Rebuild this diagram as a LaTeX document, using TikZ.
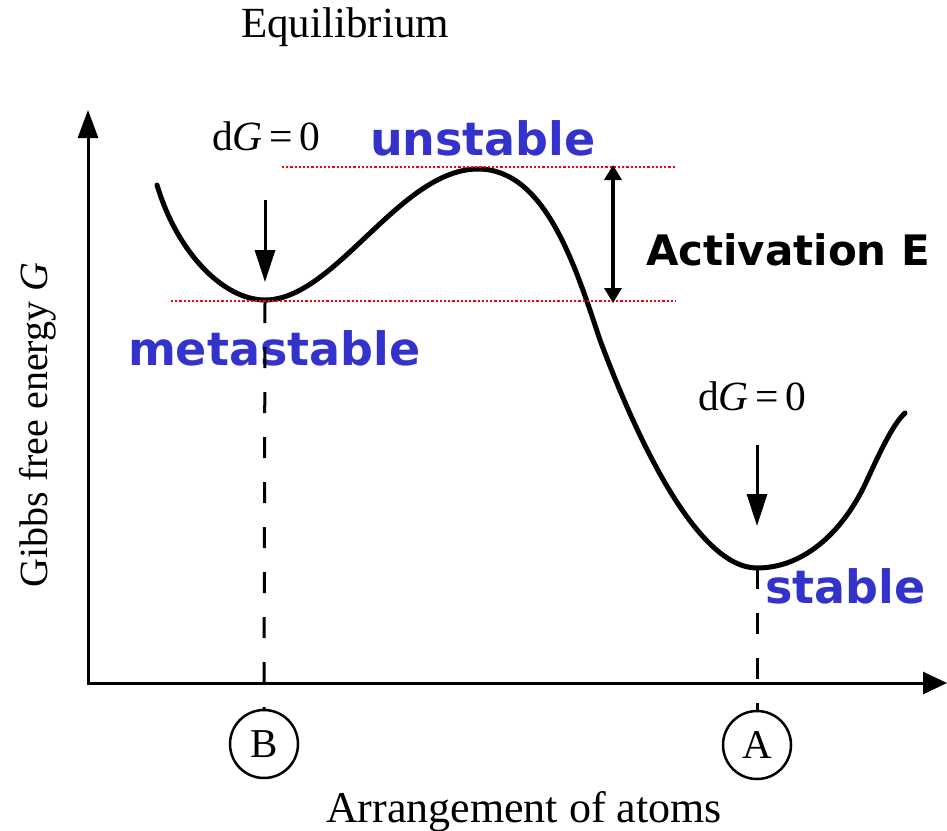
\documentclass[tikz,border=0pt]{standalone}
\usepackage{fontspec}
\setmainfont{Liberation Serif}
\newfontfamily\lblfont{DejaVu Sans}
\usetikzlibrary{arrows.meta}
\definecolor{lblblue}{RGB}{51,51,204}
\newcommand\fsz[1]{\fontsize{#1}{#1}\selectfont}
\begin{document}
\begin{tikzpicture}[x=1pt,y=-1pt,
  txt/.style={inner sep=0pt,outer sep=0pt},
  serif/.style={txt,font=\fsz{40}},
  bluelbl/.style={txt,text=lblblue,font=\lblfont\bfseries\fsz{46}},
  blacklbl/.style={txt,text=black,font=\lblfont\bfseries\fsz{42}},
  axisline/.style={line width=3pt,-{Triangle[length=28pt,width=20pt]}},
  curveline/.style={line width=5pt,line cap=round},
  dashline/.style={line width=3pt,dash pattern=on 21pt off 24pt},
  reddot/.style={red,line width=2.6pt,dash pattern=on 2.2pt off 2pt},
  downarrow/.style={line width=3pt,-{Triangle[length=32pt,width=20pt]}},
  twoarrow/.style={line width=3.5pt,{Triangle[length=15pt,width=17pt]}-{Triangle[length=15pt,width=17pt]}},
  markcircle/.style={draw,circle,line width=2.5pt,minimum size=68pt,inner sep=0pt,font=\fsz{41}}
]
\useasboundingbox (0,0) rectangle (947,830);

% axes
\coordinate (ybot) at (88,684.5);
\coordinate (ytop) at (88,110);
\coordinate (xleft) at (86.5,683);
\coordinate (xright) at (947,683);
\draw[axisline] (ybot) -- (ytop);
\draw[axisline,-{Triangle[length=24pt,width=22pt]}] (xleft) -- (xright);

% titles
\node[serif,anchor=base,font=\fsz{43}] (title) at (345,37) {Equilibrium};
\node[serif,anchor=base,rotate=90] (ylabel) at (47,425) {Gibbs free energy \textit{G}};
\node[serif,anchor=base,font=\fsz{44}] (xlabel) at (524,822) {Arrangement of atoms};

% blue and black labels
\node[bluelbl,anchor=base west] (unst) at (370,155) {unstable};
\node[bluelbl,anchor=base west] (meta) at (128,365) {metastable};
\node[bluelbl,anchor=base west] (stab) at (765,603) {stable};
\node[blacklbl,anchor=base west] (actE) at (646,265) {Activation E};

% dG = 0 labels
\node[serif,anchor=base west,font=\fsz{41.5}] (dgB) at (212,150) {d\textit{G}\,=\,0};
\node[serif,anchor=base west,font=\fsz{41.5}] (dgA) at (698,410) {d\textit{G}\,=\,0};

% circles
\node[markcircle] (cB) at (264,744) {B};
\node[markcircle] (cA) at (757,745) {A};

% key points
\coordinate (minB) at (265,302);
\coordinate (minA) at (757,568);

% dashed verticals
\draw[dashline] (minB) -- (cB.north);
\draw[dashline] (minA) -- (cA.north);

% curve
\draw[curveline] (157,185)
  .. controls (178,255) and (225,300) .. (265,300)
  .. controls (335,300) and (400,169) .. (478,169)
  .. controls (545,169) and (575,265) .. (600,340)
  .. controls (641,450) and (700,568) .. (757,568)
  .. controls (805,568) and (845,530) .. (868,478)
  .. controls (880,452) and (893,424) .. (905,413);

% red dotted levels
\coordinate (topL) at (282,167);
\coordinate (topR) at (676,167);
\coordinate (lowL) at (171,301);
\coordinate (lowR) at (676,301);
\draw[reddot] (topL) -- (topR);
\draw[reddot] (lowL) -- (lowR);

% activation arrow
\coordinate (actTop) at (613,165);
\coordinate (actBot) at (613,303);
\draw[twoarrow] (actTop) -- (actBot);

% down arrows
\coordinate (arBs) at (265,200);
\coordinate (arBe) at (265,282);
\coordinate (arAs) at (757,445);
\coordinate (arAe) at (757,526);
\draw[downarrow] (arBs) -- (arBe);
\draw[downarrow] (arAs) -- (arAe);
\end{tikzpicture}
\end{document}
